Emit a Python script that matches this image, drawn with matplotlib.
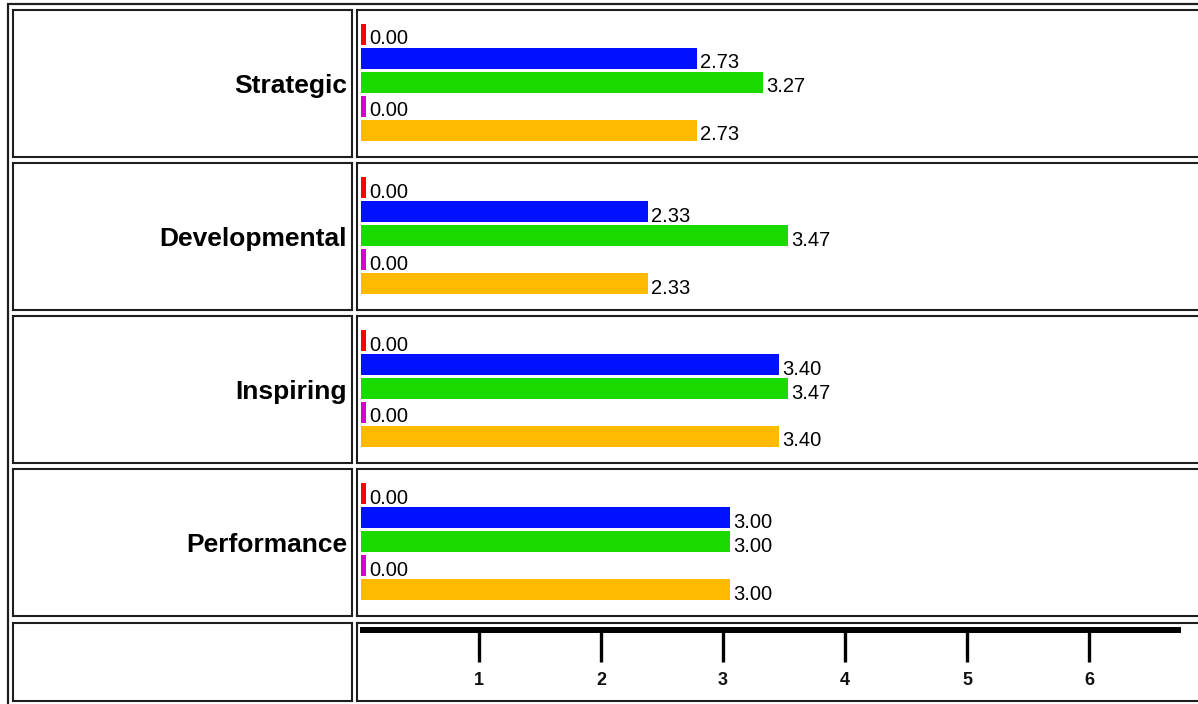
import matplotlib.pyplot as plt
from matplotlib.patches import Rectangle

plt.rcParams['font.family'] = ['Liberation Sans', 'DejaVu Sans']

# scores per competency, one list per rater group
categories = ['Strategic', 'Developmental', 'Inspiring', 'Performance']
series_a = [0.00, 0.00, 0.00, 0.00]   # red
series_b = [2.73, 2.33, 3.40, 3.00]   # blue
series_c = [3.27, 3.47, 3.47, 3.00]   # green
series_d = [0.00, 0.00, 0.00, 0.00]   # magenta
series_e = [2.73, 2.33, 3.40, 3.00]   # orange
colors = ['#ff0000', '#0011ff', '#1ada00', '#d400d4', '#ffb900']
scale_ticks = [1, 2, 3, 4, 5, 6]

W, H = 1198, 704
fig = plt.figure(figsize=(W / 100, H / 100), dpi=100)


def rect(x, y, w, h):
    # pixel box (from top-left) -> figure fraction
    return [x / W, 1 - (y + h) / H, w / W, h / H]


border = '#1e1e1e'
px_unit = 123.0        # pixels per score unit in the bar cells
stub = 5 / px_unit     # zero scores still show a thin sliver

# outer table frame
fig.add_artist(Rectangle((8 / W, -0.1), 1.2, 1 - 4 / H + 0.1, transform=fig.transFigure,
                         fill=False, edgecolor=border, linewidth=1.6))

row_tops = [10, 163, 316, 469]
row_h = 147

for r, name in enumerate(categories):
    top = row_tops[r]

    # label cell
    lab = fig.add_axes(rect(13, top, 339, row_h))
    lab.set_xlim(0, 339)
    lab.set_ylim(row_h, 0)
    lab.set_xticks([])
    lab.set_yticks([])
    for s in lab.spines.values():
        s.set_color(border)
        s.set_linewidth(1.5)
    lab.text(334, 83, name, ha='right', va='baseline', fontsize=19,
             fontweight='bold', color='black')

    # bar cell
    ax = fig.add_axes(rect(357, top, 860, row_h))
    ax.set_xlim(-4 / px_unit, (860 - 4) / px_unit)
    ax.set_ylim(row_h / 24 - 1.0, -1.0)
    ax.set_xticks([])
    ax.set_yticks([])
    for s in ax.spines.values():
        s.set_color(border)
        s.set_linewidth(1.5)

    values = [series_a[r], series_b[r], series_c[r], series_d[r], series_e[r]]
    for i, v in enumerate(values):
        ax.barh(i, max(v, stub), height=0.875, left=0, color=colors[i])
        ax.annotate(f'{v:.2f}', xy=(max(v, stub), i + 0.4375), xytext=(3, 0),
                    textcoords='offset pixels', ha='left', va='baseline',
                    fontsize=14.5, color='black')

# scale row
lab = fig.add_axes(rect(13, 623, 339, 78))
cell = fig.add_axes(rect(357, 623, 860, 78))
for a in (lab, cell):
    a.set_xticks([])
    a.set_yticks([])
    for s in a.spines.values():
        s.set_color(border)
        s.set_linewidth(1.5)

ruler_px = 122.0
ruler = fig.add_axes(rect(360, 630, 821, 32))
ruler.set_xlim(3 / ruler_px, 824 / ruler_px)
ruler.set_ylim(0, 1)
ruler.patch.set_visible(False)
for side in ('left', 'right', 'bottom'):
    ruler.spines[side].set_visible(False)
ruler.spines['top'].set_linewidth(4.3)
ruler.spines['top'].set_color('black')
ruler.spines['top'].set_capstyle('butt')
ruler.set_yticks([])
ruler.set_xticks(scale_ticks)
ruler.set_xticklabels([str(t) for t in scale_ticks], fontsize=13, fontweight='bold',
                      color='#111111')
ruler.tick_params(axis='x', top=True, bottom=False, direction='in', length=23,
                  width=2.4, color='black', pad=7, labelbottom=True)

fig.savefig('out.png', dpi=100)
